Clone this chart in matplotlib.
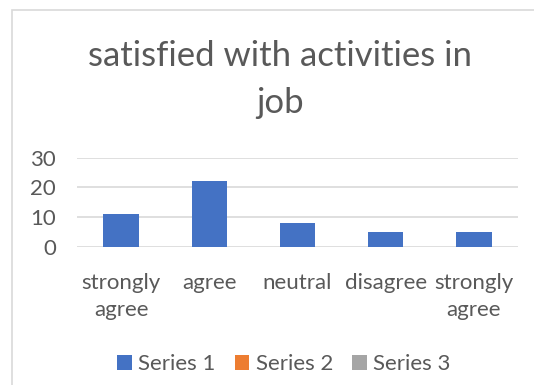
import matplotlib
matplotlib.use("Agg")
import matplotlib.pyplot as plt
from matplotlib.patches import Patch, Rectangle

categories = ["strongly\nagree", "agree", "neutral", "disagree", "strongly\nagree"]
series1 = [11, 22, 8, 5, 5]
series_names = ["Series 1", "Series 2", "Series 3"]
series_colors = ["#4472C4", "#ED7D31", "#A5A5A5"]
yticks = [0, 10, 20, 30]
title_lines = ["satisfied with activities in", "job"]

W, H = 534, 385
DPI = 100
plt.rcParams["font.family"] = ["Lato", "DejaVu Sans"]
TXT = "#595959"
GRID = "#D9D9D9"

fig = plt.figure(figsize=(W / DPI, H / DPI), dpi=DPI)
fig.patch.set_facecolor("white")

# chart-area frame
fig.patches.append(Rectangle((12 / W, -0.1), 1.2, 1 - 10 / H + 0.1,
                             transform=fig.transFigure, fill=False,
                             edgecolor=GRID, linewidth=1.2))

ax = fig.add_axes([77 / W, 1 - 247 / H, (518 - 77) / W, (247 - 157.6) / H])
x = list(range(len(categories)))
ax.bar(x, series1, width=0.4, color=series_colors[0], zorder=3)
ax.set_xlim(-0.5, len(categories) - 0.5)
ax.set_ylim(0, 30)
ax.set_yticks(yticks)
ax.set_yticklabels([str(v) for v in yticks])
ax.grid(axis="y", color=GRID, linewidth=1.2, zorder=0)
for s in ax.spines.values():
    s.set_visible(False)
ax.tick_params(axis="both", length=0, colors=TXT, labelsize=16)
ax.tick_params(axis="y", pad=15)
ax.tick_params(axis="x", pad=19)
ax.set_xticks(x)
ax.set_xticklabels(categories, va="top")
for lbl in ax.get_xticklabels():
    lbl.set_linespacing(1.42)

# title, two lines
fig.text(280 / W, 1 - 66.5 / H, title_lines[0], ha="center", va="baseline",
         fontsize=25, color=TXT)
fig.text(280 / W, 1 - 112.6 / H, title_lines[1], ha="center", va="baseline",
         fontsize=25, color=TXT)

handles = [Patch(facecolor=c, edgecolor="none") for c in series_colors]
fig.legend(handles, series_names, loc="center", bbox_to_anchor=(284 / W, 1 - 364.5 / H),
           ncol=3, frameon=False, fontsize=16, labelcolor=TXT,
           handlelength=0.65, handleheight=0.65, handletextpad=0.3,
           columnspacing=0.85)

fig.savefig("out.png", dpi=DPI)
